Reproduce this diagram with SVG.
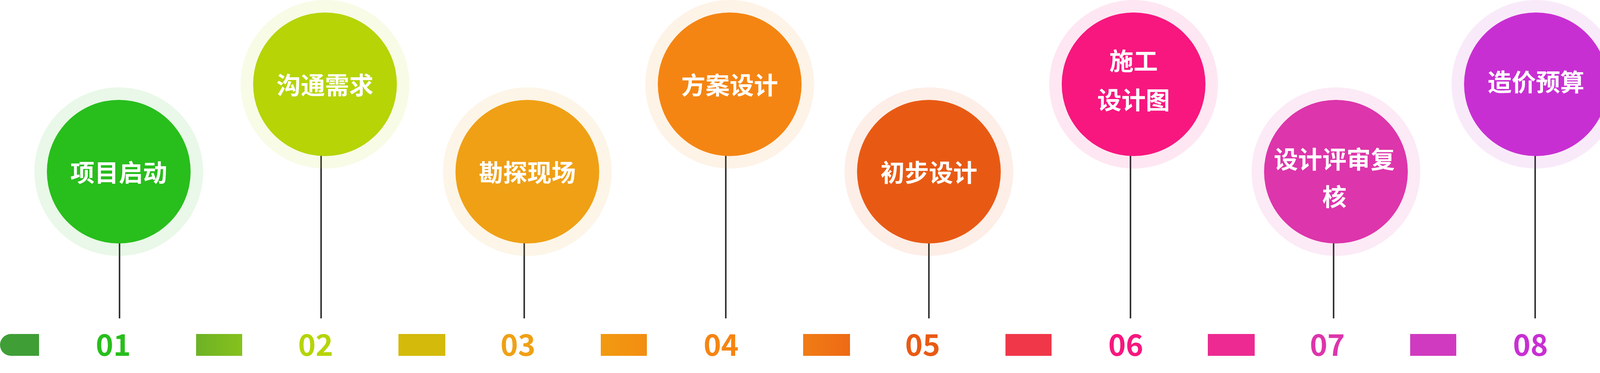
<svg xmlns="http://www.w3.org/2000/svg" width="4232" height="956" viewBox="0 0 4232 956">
<style>
.halo{opacity:0.1}
.lbl{font-family:"Noto Sans CJK SC",sans-serif;font-weight:bold;font-size:62px;fill:#fff;text-anchor:middle}
.num{font-family:"Noto Sans CJK SC","Noto Sans",sans-serif;font-weight:bold;font-size:76px;text-anchor:middle}
.ln{stroke:#333;stroke-width:4}
</style>
<defs>
<linearGradient id="g2"><stop offset="0" stop-color="#6DB226"/><stop offset="1" stop-color="#86C11C"/></linearGradient>
<linearGradient id="g4"><stop offset="0" stop-color="#F29A10"/><stop offset="1" stop-color="#F38D12"/></linearGradient>
<linearGradient id="g5"><stop offset="0" stop-color="#F07C14"/><stop offset="1" stop-color="#EE6A16"/></linearGradient>
</defs>
<rect width="4232" height="956" fill="#fff"/>
<g id="connectors">
<line class="ln" x1="306" y1="620" x2="306" y2="816"/>
<line class="ln" x1="822" y1="396" x2="822" y2="816"/>
<line class="ln" x1="1342" y1="620" x2="1342" y2="816"/>
<line class="ln" x1="1858" y1="396" x2="1858" y2="816"/>
<line class="ln" x1="2378" y1="620" x2="2378" y2="816"/>
<line class="ln" x1="2894" y1="396" x2="2894" y2="816"/>
<line class="ln" x1="3414" y1="620" x2="3414" y2="816"/>
<line class="ln" x1="3930" y1="396" x2="3930" y2="816"/>
</g>
<g id="n1"><circle class="halo" cx="304" cy="440" r="216" fill="#28BE1C"/><circle cx="304" cy="440" r="184" fill="#28BE1C"/><text class="lbl" x="304" y="466">项目启动</text></g>
<g id="n2"><circle class="halo" cx="832" cy="216" r="216" fill="#B6D406"/><circle cx="832" cy="216" r="184" fill="#B6D406"/><text class="lbl" x="832" y="242">沟通需求</text></g>
<g id="n3"><circle class="halo" cx="1350" cy="440" r="216" fill="#F0A015"/><circle cx="1350" cy="440" r="184" fill="#F0A015"/><text class="lbl" x="1350" y="466">勘探现场</text></g>
<g id="n4"><circle class="halo" cx="1868" cy="216" r="216" fill="#F58512"/><circle cx="1868" cy="216" r="184" fill="#F58512"/><text class="lbl" x="1868" y="242">方案设计</text></g>
<g id="n5"><circle class="halo" cx="2378" cy="440" r="216" fill="#E85A14"/><circle cx="2378" cy="440" r="184" fill="#E85A14"/><text class="lbl" x="2378" y="466">初步设计</text></g>
<g id="n6"><circle class="halo" cx="2902" cy="216" r="216" fill="#F7177F"/><circle cx="2902" cy="216" r="184" fill="#F7177F"/><text class="lbl" x="2902" y="180">施工</text><text class="lbl" x="2902" y="280">设计图</text></g>
<g id="n7"><circle class="halo" cx="3420" cy="440" r="216" fill="#DD35AB"/><circle cx="3420" cy="440" r="184" fill="#DD35AB"/><text class="lbl" x="3416" y="432">设计评审复</text><text class="lbl" x="3416" y="528">核</text></g>
<g id="n8"><circle class="halo" cx="3932" cy="216" r="216" fill="#C82FD2"/><circle cx="3932" cy="216" r="184" fill="#C82FD2"/><text class="lbl" x="3932" y="234">造价预算</text></g>
<g id="bar">
<path d="M28 856H100V912H28A28 28 0 0 1 28 856Z" fill="#3F9E36"/>
<rect x="502" y="856" width="118" height="56" fill="url(#g2)"/>
<rect x="1020" y="856" width="120" height="56" fill="#D4BA0A"/>
<rect x="1538" y="856" width="118" height="56" fill="url(#g4)"/>
<rect x="2056" y="856" width="120" height="56" fill="url(#g5)"/>
<rect x="2574" y="856" width="118" height="56" fill="#F0374A"/>
<rect x="3092" y="856" width="120" height="56" fill="#EC2A92"/>
<rect x="3610" y="856" width="118" height="56" fill="#D03AC0"/>
<path d="M4128 856H4204A28 28 0 0 1 4204 912H4128Z" fill="#C72FD2"/>
</g>
<g id="numbers">
<text class="num" x="290" y="912" fill="#28BE1C">01</text>
<text class="num" x="808" y="912" fill="#B6D406">02</text>
<text class="num" x="1326" y="912" fill="#F0A015">03</text>
<text class="num" x="1846" y="912" fill="#F58512">04</text>
<text class="num" x="2362" y="912" fill="#E85A14">05</text>
<text class="num" x="2882" y="912" fill="#F7177F">06</text>
<text class="num" x="3398" y="912" fill="#DD35AB">07</text>
<text class="num" x="3918" y="912" fill="#C82FD2">08</text>
</g>
</svg>
